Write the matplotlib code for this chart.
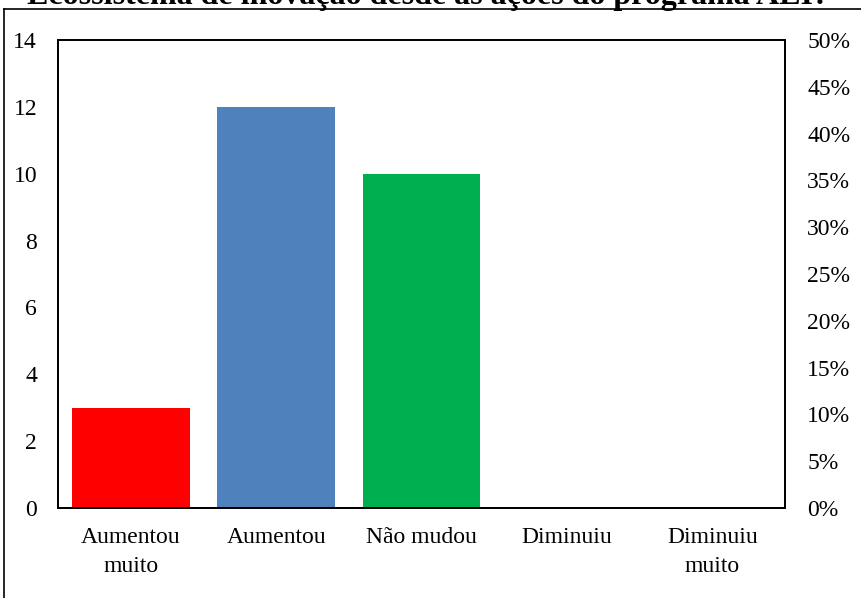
import matplotlib
matplotlib.use('Agg')
import matplotlib.pyplot as plt
from matplotlib.lines import Line2D
from matplotlib.ticker import PercentFormatter

plt.rcParams['font.family'] = ['Liberation Serif', 'DejaVu Serif']

categories = ['Aumentou\nmuito', 'Aumentou', 'Não mudou', 'Diminuiu', 'Diminuiu\nmuito']
counts = [3, 12, 10, 0, 0]
colors = ['#ff0000', '#4f81bd', '#00b050', '#8064a2', '#f79646']
left_ticks = [0, 2, 4, 6, 8, 10, 12, 14]
right_ticks = [0, 0.05, 0.10, 0.15, 0.20, 0.25, 0.30, 0.35, 0.40, 0.45, 0.50]
title = 'Ecossistema de inovação desde as ações do programa ALI?'

W, H = 861, 598
fig = plt.figure(figsize=(W / 100, H / 100), dpi=100)
ax = fig.add_axes([58 / W, (H - 508) / H, 727 / W, 468 / H])

x = range(len(categories))
ax.bar(x, counts, width=0.81, color=colors)
ax.set_xlim(-0.5, len(categories) - 0.5)
ax.set_ylim(0, 14)
ax.set_yticks(left_ticks)
ax.set_xticks(list(x))
ax.set_xticklabels(categories, linespacing=1.45)
ax.tick_params(axis='y', length=0, pad=15, labelsize=17)
ax.tick_params(axis='x', length=0, pad=14, labelsize=17)
for s in ax.spines.values():
    s.set_linewidth(1.3)

ax2 = ax.twinx()
ax2.set_ylim(0, 0.5)
ax2.set_yticks(right_ticks)
ax2.yaxis.set_major_formatter(PercentFormatter(1.0, decimals=0))
ax2.tick_params(axis='y', length=0, pad=16, labelsize=17)
for s in ax2.spines.values():
    s.set_linewidth(1.3)

# outer chart frame (only top and left edges fall inside the image)
fx = 4 / W
fy = 1 - 9 / H
fig.add_artist(Line2D([fx, fx], [0, fy], color='black', lw=1.2))
fig.add_artist(Line2D([fx, 1], [fy, fy], color='black', lw=1.2))

fig.text(0.497, 1 - 4 / H, title, ha='center', va='baseline',
         fontsize=23, fontweight='bold')

fig.savefig('out.png', dpi=100, facecolor='white')
